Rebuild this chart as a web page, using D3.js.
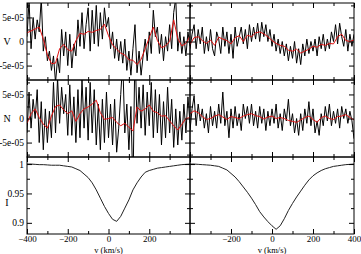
<!DOCTYPE html>
<html>
<head>
<meta charset="utf-8">
<script src="https://cdn.jsdelivr.net/npm/d3@7"></script>
<style>
	body { margin: 0; background: #fff; }
	svg { display: block; }
	text { font-family: "Liberation Serif", "Times New Roman", serif; fill: #000; }
</style>
</head>
<body>
<svg width="361" height="254"></svg>
<script>
var svg = d3.select("svg");

// velocity grids (km/s): noisy profiles every 10, smoothed/intensity every 20
const vel_fine = d3.range(-400, 401, 10);
const vel_coarse = d3.range(-400, 401, 20);

// Stokes V, units of 1e-5
const v_left = [1.0, 8.5, -1.5, 5.0, 0.5, 4.5, 2.0, 9.0, -2.0, 1.0, -4.0, -2.0, -6.0, -3.0, -8.5, -3.5, -6.5, 2.5, -3.0, 2.0,
	-5.0, 1.5, -5.5, -0.5, -3.0, 4.5, -1.0, 6.0, -1.5, 3.5, 7.0, -2.0, 6.5, -0.5, 7.5, -1.0, 6.0, 0.5, 7.0, 3.0,
	5.0, -1.5, 2.0, -3.5, 0.5, -4.0, 0.0, -4.5, 0.5, -6.0, -2.0, -7.0, -1.5, 3.5, -6.5, -2.0, -7.0, -3.0, 0.5, -4.0,
	2.0, -2.5, 6.5, 1.0, 3.0, -2.5, 1.5, -4.0, 1.0, -2.0, 3.5, -1.5, 6.0, 9.0, -2.0, 2.0, -2.5, 1.0, -3.0, 2.0, -1.0];
const v_left_smooth = [1.8, 2.2, 2.6, 3.0, 0.5, -2.8, -4.6, -4.5, -1.5, -0.6, -1.7, -2.0, 0.2, 1.7, 1.5, 2.1, 1.9, 2.3, 2.5, 3.6,
	1.2, -0.7, -1.6, -2.4, -2.8, -3.8, -3.9, -4.8, -3.7, -1.5, 0.8, 3.0, 0.2, -1.3, -0.9, 0.0, 4.5, 0.6, -0.9, -0.4, 1.1];
const v_right = [-1.5, 1.5, 3.5, -1.5, 2.5, -0.5, 3.0, -2.5, 1.0, -2.0, 2.5, -1.5, -3.0, 2.0, 0.5, -2.5, 3.0, -1.0, 2.0, -2.5,
	1.5, -3.5, 3.0, -1.0, 1.0, 3.0, -0.5, 2.5, -1.5, 3.5, 0.0, 3.0, 0.5, 3.8, 0.0, 4.0, 1.0, 3.5, 0.0, 2.5,
	-1.0, 1.5, -2.0, 0.5, -2.5, 0.0, -3.0, -0.5, -4.0, -1.0, -3.5, 0.0, -4.5, -1.5, -4.8, -0.5, -3.0, 0.5, -2.5, 0.0,
	-2.0, 0.5, -3.0, 1.0, -1.5, 1.5, -2.0, 0.5, -1.5, 2.0, 0.0, 3.5, -0.5, 3.8, 1.0, -1.0, 2.5, -2.0, 1.5, -1.0, 1.5];
const v_right_smooth = [-0.6, 0.8, 1.0, 0.2, -0.4, 0.3, -0.8, 0.9, 0.5, 0.2, -0.5, 0.8, 1.2, 0.0, 1.3, 1.0, 1.8, 2.0, 1.6, 1.0,
	0.2, -0.4, -0.8, -1.0, -1.8, -2.0, -1.6, -2.4, -2.0, -1.6, -1.0, -1.2, -0.6, -0.8, -0.4, -0.5, 1.0, 1.5, 0.2, 0.0, 0.3];

// null profile N, units of 1e-5
const n_left = [-3.0, 5.5, -2.0, 4.0, 0.0, 6.0, -5.0, 3.5, -6.5, 2.0, -5.0, 1.5, -4.0, 7.5, -3.0, 8.5, -1.0, 6.5, 1.0, 5.0,
	-3.5, 7.0, -3.5, 4.5, -5.0, 6.0, -4.0, 8.0, -2.0, 6.5, -4.5, 7.5, -3.0, 6.0, -5.5, 3.0, -6.5, 4.0, -5.0, 5.5,
	-4.0, 3.0, -5.5, 4.0, -7.0, -2.0, 5.0, 12.0, -3.0, 3.0, -6.5, 2.5, -15.0, 15.0, -1.0, 6.5, -2.0, 7.0, -3.5, 5.5,
	-1.5, 7.5, -4.0, 6.0, -3.0, 5.0, -5.5, 3.5, -4.0, 6.5, -3.0, 4.0, -6.0, 2.0, -5.5, 1.5, -4.5, 3.0, -3.0, 4.5, -1.0];
const n_left_smooth = [-1.0, 1.0, 2.0, 0.2, -1.2, -2.0, 0.5, 2.5, 2.8, 1.8, 1.0, 1.6, -0.6, 1.0, 2.0, 2.4, 3.0, 3.8, 1.2, -0.2,
	0.0, 0.2, -0.8, -1.5, -1.0, -1.8, -2.6, 2.4, 1.5, 2.0, 2.8, 1.5, 1.2, 0.5, 0.6, -0.5, -1.5, -2.4, -1.2, 0.0, 0.2];
const n_right = [-2.5, 2.0, 4.7, -1.5, 3.0, -0.5, 2.0, -2.0, 1.0, -3.0, 2.5, -1.5, 1.5, -2.0, 3.0, -1.0, 5.5, -1.5, 1.5, -4.0,
	2.0, -2.0, 2.5, -1.5, 1.0, -2.5, 3.0, 0.0, 2.5, -1.0, 3.0, -1.5, 1.5, -2.0, 2.5, -1.0, 2.0, -2.5, 1.5, -1.5,
	2.0, -1.0, 3.0, -2.0, 1.0, -2.5, 2.0, -0.5, 4.0, -1.5, 1.0, -3.0, 0.0, -3.5, 1.0, -2.5, 2.0, -1.0, 3.5, -1.5,
	2.0, -3.0, -0.5, -3.5, 1.0, -1.5, 2.5, -0.5, 3.0, -1.5, 1.5, -1.0, 2.0, -2.0, 2.5, 0.0, 2.0, -1.0, 1.5, -0.5, -4.2];
const n_right_smooth = [1.0, 1.6, 1.2, 0.4, -0.2, 0.0, 0.5, 0.8, 0.3, -0.2, 0.4, 0.2, 0.0, 0.5, 0.8, 1.0, 0.6, 0.4, -0.1, 0.3,
	0.5, 0.0, 0.2, 0.0, -0.4, -0.6, -0.8, -0.3, 0.2, 0.5, -0.2, -0.8, 0.2, 0.5, 0.0, -0.2, 0.4, 0.5, 0.8, 0.2, -0.3];

// intensity I
const i_left = [1.000, 1.000, 0.9995, 0.999, 0.999, 0.9985, 0.998, 0.998, 0.998, 0.997, 0.996, 0.995, 0.992, 0.989, 0.983, 0.977,
	0.968, 0.956, 0.942, 0.928, 0.916, 0.906, 0.9025, 0.911, 0.925, 0.939, 0.956, 0.968, 0.978, 0.986, 0.989, 0.991,
	0.993, 0.994, 0.995, 0.996, 0.997, 0.998, 0.999, 0.9995, 1.000];
const i_right = [1.000, 1.000, 0.9995, 0.999, 0.9985, 0.998, 0.997, 0.996, 0.993, 0.990, 0.984, 0.978, 0.970, 0.961, 0.952, 0.942,
	0.931, 0.919, 0.910, 0.902, 0.895, 0.889, 0.895, 0.907, 0.921, 0.933, 0.944, 0.954, 0.964, 0.973, 0.980, 0.985,
	0.989, 0.992, 0.994, 0.996, 0.997, 0.998, 0.999, 0.9995, 1.000];

// ticks
const x_major = [-400, -200, 0, 200, 400];
const x_minor = [-300, -100, 100, 300];
const x_labels_left = [-400, -200, 0, 200];
const x_labels_right = [-200, 0, 200, 400];
const vn_major = [-5, 0, 5];
const vn_minor = [-7.5, -2.5, 2.5, 7.5];
const vn_labels = ["-5e-05", "0", "5e-05"];
const i_major = [0.9, 0.95, 1];
const i_minor = [0.925, 0.975];
const i_labels = ["0.9", "0.95", "1"];

// layout
const cols = [[27, 190], [190, 354]];
const rows = [[3, 80], [80, 157], [157, 234]];

const panels = [
	{row: 0, col: 0, name: "V", dom: [-8, 8], raw: v_left, smooth: v_left_smooth},
	{row: 0, col: 1, name: "V", dom: [-8, 8], raw: v_right, smooth: v_right_smooth},
	{row: 1, col: 0, name: "N", dom: [-8, 8], raw: n_left, smooth: n_left_smooth},
	{row: 1, col: 1, name: "N", dom: [-8, 8], raw: n_right, smooth: n_right_smooth},
	{row: 2, col: 0, name: "I", dom: [0.881, 1.012], prof: i_left},
	{row: 2, col: 1, name: "I", dom: [0.881, 1.012], prof: i_right},
];

function strip(sel, size) {
	sel.select(".domain").remove();
	sel.selectAll("line").attr("stroke", "#000").attr("stroke-width", 1);
	sel.selectAll("text").attr("font-size", (size || 9.5) + "px").attr("fill", "#000")
		.style("font-family", '"Liberation Serif", "Times New Roman", serif');
}

function draw_panel(p, k) {
	var xr = cols[p.col], yr = rows[p.row];
	var x = d3.scaleLinear().domain([-400, 400]).range(xr);
	var y = d3.scaleLinear().domain(p.dom).range([yr[1], yr[0]]);
	var is_i = p.name == "I";
	var major = is_i ? i_major : vn_major;
	var minor = is_i ? i_minor : vn_minor;
	var labels = is_i ? i_labels : vn_labels;

	svg.append("clipPath").attr("id", "clip" + k)
		.append("rect")
		.attr("x", xr[0]).attr("y", yr[0])
		.attr("width", xr[1] - xr[0]).attr("height", yr[1] - yr[0]);

	var g = svg.append("g").attr("clip-path", "url(#clip" + k + ")");
	var line = d3.line().x(d => x(d[0])).y(d => y(d[1]));

	if (is_i) {
		g.append("path")
			.attr("d", line(vel_coarse.map((v, i) => [v, p.prof[i]])))
			.attr("fill", "none").attr("stroke", "#222").attr("stroke-width", 1);
	} else {
		g.append("path")
			.attr("d", line(vel_fine.map((v, i) => [v, p.raw[i]])))
			.attr("fill", "none").attr("stroke", "#000").attr("stroke-width", 1);
		g.append("path")
			.attr("d", line(vel_coarse.map((v, i) => [v, p.smooth[i]])))
			.attr("fill", "none").attr("stroke", "#e01010").attr("stroke-width", 1);
	}

	// inward ticks on all four sides
	var show_x = p.row == 2;
	var xl = p.col == 0 ? x_labels_left : x_labels_right;
	svg.append("g").attr("transform", "translate(0," + yr[1] + ")")
		.call(d3.axisBottom(x).tickValues(x_major).tickSize(-5).tickPadding(1.5)
			.tickFormat(d => (show_x && xl.includes(d)) ? d3.format("d")(d) : ""))
		.call(strip, 9);
	svg.append("g").attr("transform", "translate(0," + yr[1] + ")")
		.call(d3.axisBottom(x).tickValues(x_minor).tickSize(-3).tickFormat(""))
		.call(strip);
	svg.append("g").attr("transform", "translate(0," + yr[0] + ")")
		.call(d3.axisTop(x).tickValues(x_major).tickSize(-5).tickFormat(""))
		.call(strip);
	svg.append("g").attr("transform", "translate(0," + yr[0] + ")")
		.call(d3.axisTop(x).tickValues(x_minor).tickSize(-3).tickFormat(""))
		.call(strip);

	svg.append("g").attr("transform", "translate(" + xr[0] + ",0)")
		.call(d3.axisLeft(y).tickValues(major).tickSize(-5).tickPadding(3)
			.tickFormat((d, i) => p.col == 0 ? labels[i] : ""))
		.call(strip);
	svg.append("g").attr("transform", "translate(" + xr[0] + ",0)")
		.call(d3.axisLeft(y).tickValues(minor).tickSize(-3).tickFormat(""))
		.call(strip);
	svg.append("g").attr("transform", "translate(" + xr[1] + ",0)")
		.call(d3.axisRight(y).tickValues(major).tickSize(-5).tickFormat(""))
		.call(strip);
	svg.append("g").attr("transform", "translate(" + xr[1] + ",0)")
		.call(d3.axisRight(y).tickValues(minor).tickSize(-3).tickFormat(""))
		.call(strip);

	// frame
	svg.append("rect")
		.attr("x", xr[0]).attr("y", yr[0])
		.attr("width", xr[1] - xr[0]).attr("height", yr[1] - yr[0])
		.attr("fill", "none").attr("stroke", "#000").attr("stroke-width", 1);

	if (p.col == 0) {
		svg.append("text")
			.attr("x", 7).attr("y", (yr[0] + yr[1]) / 2 + (is_i ? 7 : 0))
			.attr("dy", "0.35em").attr("text-anchor", "middle")
			.attr("font-size", "10px").text(p.name);
	}
	if (p.row == 2) {
		svg.append("text")
			.attr("x", x(0)).attr("y", 252.5)
			.attr("text-anchor", "middle")
			.attr("font-size", "8.5px").text("v (km/s)");
	}
}

panels.forEach(draw_panel);
</script>
</body>
</html>
